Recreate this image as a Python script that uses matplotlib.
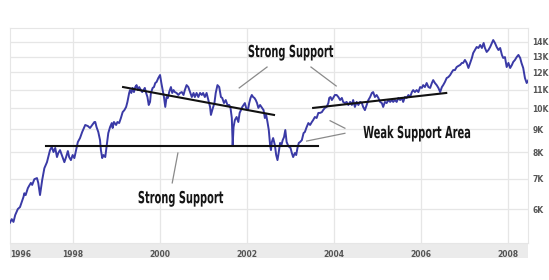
import matplotlib
matplotlib.use("Agg")
import matplotlib.pyplot as plt
from matplotlib.patches import Rectangle
from matplotlib.ticker import FixedLocator, NullLocator
from matplotlib.patheffects import AbstractPathEffect
from matplotlib.transforms import Affine2D

# ---------------- data ----------------
years = [
    1996.55, 1996.59, 1996.63, 1996.67, 1996.73, 1996.78, 1996.82, 1996.86, 1996.88, 1996.91,
    1996.96, 1996.99, 1997.03, 1997.06, 1997.11, 1997.17, 1997.20, 1997.24, 1997.29, 1997.34,
    1997.40, 1997.43, 1997.47, 1997.51, 1997.55, 1997.59, 1997.63, 1997.66, 1997.70, 1997.74,
    1997.80, 1997.84, 1997.88, 1997.91, 1997.95, 1997.99, 1998.03, 1998.07, 1998.11, 1998.16,
    1998.21, 1998.28, 1998.34, 1998.39, 1998.44, 1998.49, 1998.51, 1998.54, 1998.58, 1998.62,
    1998.64, 1998.67, 1998.70, 1998.74, 1998.76, 1998.79, 1998.81, 1998.85, 1998.89, 1998.91,
    1998.94, 1998.99, 1999.02, 1999.06, 1999.10, 1999.14, 1999.18, 1999.22, 1999.25, 1999.29,
    1999.31, 1999.34, 1999.37, 1999.40, 1999.43, 1999.46, 1999.49, 1999.52, 1999.56, 1999.59,
    1999.62, 1999.65, 1999.68, 1999.71, 1999.74, 1999.77, 1999.79, 1999.83, 1999.86, 1999.89,
    1999.92, 1999.96, 2000.00, 2000.03, 2000.06, 2000.09, 2000.12, 2000.15, 2000.18, 2000.21,
    2000.25, 2000.28, 2000.31, 2000.34, 2000.38, 2000.42, 2000.46, 2000.50, 2000.54, 2000.57,
    2000.61, 2000.65, 2000.69, 2000.73, 2000.77, 2000.80, 2000.84, 2000.88, 2000.92, 2000.96,
    2000.99, 2001.03, 2001.07, 2001.11, 2001.15, 2001.17, 2001.20, 2001.25, 2001.28, 2001.32,
    2001.36, 2001.40, 2001.43, 2001.47, 2001.51, 2001.55, 2001.59, 2001.62, 2001.65, 2001.67,
    2001.69, 2001.72, 2001.76, 2001.80, 2001.83, 2001.86, 2001.89, 2001.92, 2001.95, 2001.98,
    2002.02, 2002.05, 2002.08, 2002.11, 2002.14, 2002.17, 2002.20, 2002.23, 2002.26, 2002.30,
    2002.38, 2002.41, 2002.44, 2002.47, 2002.50, 2002.53, 2002.55, 2002.57, 2002.60, 2002.64,
    2002.67, 2002.70, 2002.73, 2002.76, 2002.79, 2002.82, 2002.85, 2002.88, 2002.91, 2002.94,
    2002.97, 2003.00, 2003.03, 2003.06, 2003.10, 2003.13, 2003.16, 2003.19, 2003.22, 2003.26,
    2003.30, 2003.33, 2003.37, 2003.41, 2003.45, 2003.49, 2003.52, 2003.56, 2003.60, 2003.64,
    2003.68, 2003.72, 2003.75, 2003.79, 2003.83, 2003.87, 2003.89, 2003.92, 2003.95, 2003.98,
    2004.02, 2004.06, 2004.10, 2004.14, 2004.18, 2004.21, 2004.25, 2004.29, 2004.33, 2004.37,
    2004.41, 2004.44, 2004.48, 2004.52, 2004.56, 2004.60, 2004.64, 2004.67, 2004.71, 2004.75,
    2004.79, 2004.83, 2004.87, 2004.90, 2004.94, 2004.98, 2005.02, 2005.06, 2005.10, 2005.13,
    2005.17, 2005.21, 2005.25, 2005.29, 2005.33, 2005.36, 2005.40, 2005.44, 2005.48, 2005.52,
    2005.56, 2005.59, 2005.63, 2005.67, 2005.71, 2005.75, 2005.79, 2005.82, 2005.86, 2005.90,
    2005.94, 2005.98, 2006.02, 2006.05, 2006.09, 2006.13, 2006.17, 2006.21, 2006.25, 2006.28,
    2006.32, 2006.36, 2006.40, 2006.44, 2006.48, 2006.51, 2006.55, 2006.59, 2006.63, 2006.67,
    2006.71, 2006.74, 2006.78, 2006.82, 2006.86, 2006.90, 2006.94, 2006.97, 2007.01, 2007.05,
    2007.09, 2007.13, 2007.17, 2007.20, 2007.24, 2007.28, 2007.32, 2007.36, 2007.40, 2007.44,
    2007.47, 2007.51, 2007.55, 2007.59, 2007.63, 2007.66, 2007.70, 2007.74, 2007.78, 2007.82,
    2007.86, 2007.89, 2007.93, 2007.97, 2008.01, 2008.05, 2008.09, 2008.12, 2008.16, 2008.20,
    2008.24, 2008.28, 2008.31, 2008.35, 2008.39, 2008.43, 2008.47,
]
index_k = [
    5.60, 5.70, 5.62, 5.82, 6.00, 6.06, 6.22, 6.38, 6.50, 6.44,
    6.67, 6.75, 6.85, 6.78, 6.98, 7.02, 6.85, 6.44, 6.95, 7.38,
    7.61, 7.81, 8.09, 8.22, 8.01, 8.18, 7.81, 7.97, 8.09, 7.89,
    7.61, 7.81, 8.05, 7.81, 7.69, 7.89, 7.77, 8.09, 8.43, 8.60,
    8.87, 9.19, 9.14, 9.05, 9.19, 9.33, 9.33, 9.09, 8.87, 8.51,
    8.09, 7.77, 7.89, 7.81, 8.09, 8.51, 8.82, 9.09, 9.28, 9.05,
    9.33, 9.19, 9.33, 9.28, 9.52, 9.81, 9.91, 10.07, 10.33, 10.81,
    10.97, 10.81, 11.09, 10.86, 11.14, 11.25, 10.97, 11.14, 10.97, 10.86,
    10.97, 11.09, 10.81, 10.59, 10.17, 10.33, 10.81, 11.09, 11.14, 11.37,
    11.43, 11.66, 11.84, 11.37, 10.97, 10.59, 10.07, 10.59, 10.54, 10.86,
    11.14, 10.81, 10.97, 10.86, 10.81, 10.70, 10.81, 10.86, 10.70, 10.97,
    11.25, 11.14, 10.86, 10.59, 10.81, 10.59, 10.81, 10.59, 10.81, 10.70,
    10.81, 10.59, 10.81, 10.43, 10.07, 9.67, 9.91, 10.27, 10.81, 11.25,
    11.14, 10.59, 10.54, 10.27, 10.43, 10.17, 10.17, 10.02, 9.52, 8.30,
    9.09, 9.42, 9.57, 9.33, 9.77, 9.91, 10.07, 10.17, 10.27, 10.02,
    9.91, 10.27, 10.54, 10.70, 10.59, 10.54, 10.43, 10.27, 10.02, 10.17,
    9.91, 9.52, 9.67, 9.33, 8.96, 8.30, 8.09, 8.43, 8.60, 8.30,
    7.89, 7.69, 8.01, 8.39, 8.30, 8.51, 8.64, 8.96, 8.43, 8.30,
    8.22, 8.18, 7.97, 7.81, 7.97, 7.89, 8.18, 8.39, 8.43, 8.51,
    8.82, 8.87, 9.09, 9.28, 9.19, 9.33, 9.42, 9.57, 9.52, 9.77,
    9.77, 9.81, 9.91, 10.02, 10.07, 10.27, 10.54, 10.59, 10.43, 10.54,
    10.70, 10.70, 10.59, 10.43, 10.54, 10.33, 10.27, 10.33, 10.17, 10.33,
    10.17, 10.43, 10.07, 10.33, 10.17, 10.33, 10.27, 10.07, 9.91, 10.17,
    10.43, 10.59, 10.81, 10.86, 10.59, 10.70, 10.54, 10.33, 10.27, 10.07,
    10.33, 10.27, 10.43, 10.33, 10.43, 10.33, 10.43, 10.33, 10.54, 10.43,
    10.54, 10.33, 10.59, 10.54, 10.70, 10.59, 10.86, 10.97, 10.86, 10.97,
    10.86, 11.14, 11.09, 11.25, 11.14, 11.37, 11.14, 11.09, 11.37, 11.54,
    11.37, 11.25, 11.09, 10.86, 11.14, 11.25, 11.43, 11.66, 11.72, 11.84,
    12.02, 12.14, 12.14, 12.33, 12.40, 12.46, 12.59, 12.59, 12.78, 12.59,
    12.27, 12.59, 12.91, 13.24, 13.44, 13.65, 13.58, 13.79, 13.58, 13.93,
    13.58, 13.31, 13.44, 13.65, 13.93, 14.14, 13.93, 13.65, 13.44, 13.58,
    13.11, 12.91, 12.97, 12.33, 12.59, 12.27, 12.46, 12.65, 12.78, 12.97,
    13.11, 12.91, 12.59, 12.27, 11.66, 11.37, 11.54,
]

x_ticks = [1996.55, 1998, 2000, 2002, 2004, 2006, 2008]
x_tick_labels = ["1996", "1998", "2000", "2002", "2004", "2006", "2008"]
y_ticks = [6000, 7000, 8000, 9000, 10000, 11000, 12000, 13000, 14000]
y_tick_labels = ["6K", "7K", "8K", "9K", "10K", "11K", "12K", "13K", "14K"]

# annotation trend lines (year, value)
resist_x = [1999.15, 2002.62]
resist_y = [11140, 9670]
support_x = [1997.38, 2003.63]
support_y = [8260, 8260]
upper_x = [2003.52, 2006.58]
upper_y = [10020, 10810]

# pointer lines from labels
pointers = [
    ([2002.46, 2001.82], [12330, 11090]),
    ([2003.47, 2004.05], [12330, 11200]),
    ([2004.25, 2003.91], [9040, 9390]),
    ([2004.25, 2003.37], [8810, 8470]),
    ([2000.41, 2000.28], [7970, 6850]),
]

labels = ["Strong Support", "Weak Support Area", "Strong Support"]
label_x = [2002.02, 2004.67, 1999.49]
label_y = [12970, 8600, 6180]   # baselines


class TallText(AbstractPathEffect):
    """Stretch glyphs vertically about the baseline (narrow display-face look)."""

    def __init__(self, sy):
        super().__init__()
        self.sy = sy

    def draw_path(self, renderer, gc, tpath, affine, rgbFace=None):
        renderer.draw_path(gc, tpath, Affine2D().scale(1.0, self.sy) + affine, rgbFace)


# ---------------- figure ----------------
W, H = 549, 280
fig = plt.figure(figsize=(W / 100, H / 100), dpi=100)
left, right, top, bottom = 10, 528, 28, 243
ax = fig.add_axes([left / W, 1 - bottom / H, (right - left) / W, (bottom - top) / H])

ax.set_yscale("log")
ax.set_xlim(1996.55, 2008.46)
ax.set_ylim(5050, 15030)

# gray x-axis band
band = Rectangle((left / W, 1 - 258 / H), (right - left) / W, 15 / H,
                 transform=fig.transFigure, facecolor="#ebebeb", edgecolor="none", zorder=-1)
fig.patches.append(band)

# grid lines
for yt in y_ticks:
    ax.axhline(yt, color="#e6e6e6", lw=0.9, zorder=1)
for xt in x_ticks[1:]:
    ax.axvline(xt, color="#e6e6e6", lw=0.9, zorder=1)

ax.plot(years, [v * 1000 for v in index_k], color="#3a3aa6", lw=1.4, zorder=3)

ax.plot(resist_x, resist_y, color="#111111", lw=1.5, zorder=4)
ax.plot(support_x, support_y, color="#111111", lw=1.5, zorder=4)
ax.plot(upper_x, upper_y, color="#111111", lw=1.5, zorder=4)
for px, py in pointers:
    ax.plot(px, py, color="#8a8a8a", lw=0.9, zorder=4)

for t, lx, ly in zip(labels, label_x, label_y):
    ax.text(lx, ly, t, ha="left", va="baseline", fontsize=7.1, fontweight="bold",
            family="DejaVu Sans", color="#151515", zorder=5,
            path_effects=[TallText(1.69)])

# ticks
ax.yaxis.set_major_locator(FixedLocator(y_ticks))
ax.yaxis.set_minor_locator(NullLocator())
ax.set_yticklabels(y_tick_labels)
ax.yaxis.tick_right()
ax.tick_params(axis="y", which="both", length=0, pad=3, labelsize=5.5,
               labelcolor="#555555")
ax.xaxis.set_major_locator(FixedLocator(x_ticks))
ax.xaxis.set_minor_locator(NullLocator())
ax.set_xticklabels(x_tick_labels)
ax.tick_params(axis="x", which="both", length=0, pad=5, labelsize=5.5,
               labelcolor="#555555")
for lab in ax.get_xticklabels() + ax.get_yticklabels():
    lab.set_fontweight("bold")
ax.get_xticklabels()[0].set_ha("left")

for s in ax.spines.values():
    s.set_color("#e6e6e6")
    s.set_linewidth(0.8)

fig.savefig("out.png", dpi=100)
